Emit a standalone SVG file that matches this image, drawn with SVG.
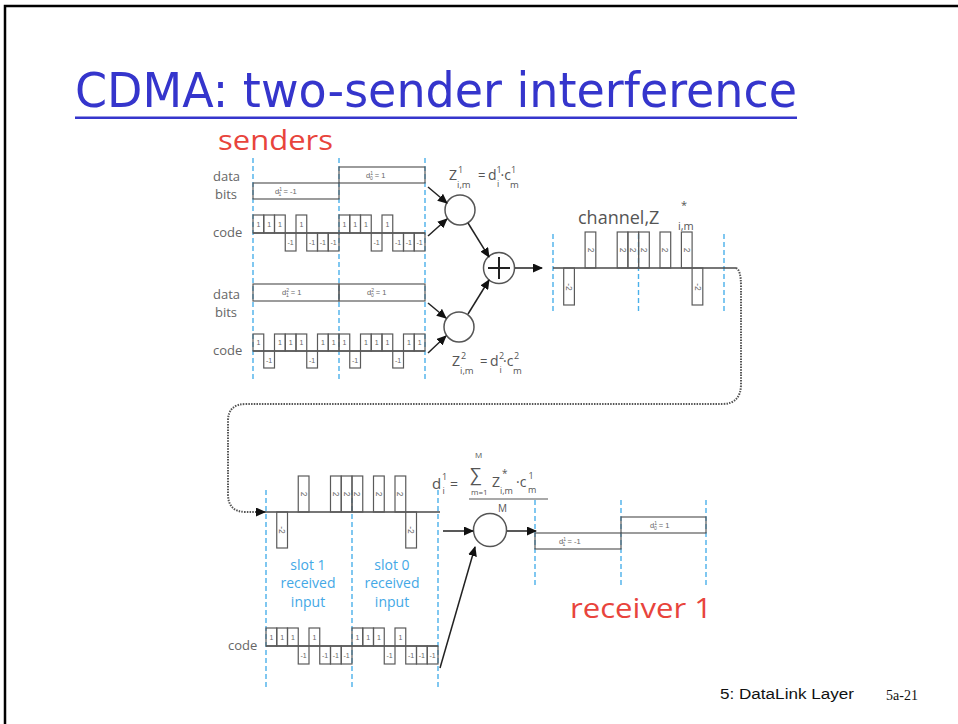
<svg xmlns="http://www.w3.org/2000/svg" width="958" height="724" viewBox="0 0 958 724">
  <style>
    .wave { fill: none; stroke: #5a5a5a; stroke-width: 1.2; }
    .base { fill: none; stroke: #4a4a4a; stroke-width: 1.3; }
    .slot { stroke: #4ab0ea; stroke-width: 1.4; stroke-dasharray: 5 3; }
    .chip { font-family: "Liberation Sans", Arial, sans-serif; font-size: 7px; fill: #666; text-anchor: middle; }
    .chip2 { font-family: "Liberation Sans", Arial, sans-serif; font-size: 8.5px; fill: #666; text-anchor: middle; }
    .lbl { font-family: "Open Sans", "Liberation Sans", Arial, sans-serif; font-size: 13px; fill: #666; }
    .eq { font-family: "Open Sans", "Liberation Sans", Arial, sans-serif; fill: #555; }
    .small { font-family: "Liberation Sans", Arial, sans-serif; font-size: 7.5px; fill: #666; }
    .circ { fill: #fff; stroke: #555; stroke-width: 1.5; }
    .arrow { stroke: #222; stroke-width: 1.5; fill: none; marker-end: url(#head); }
    .blue { font-family: "Open Sans", "Liberation Sans", Arial, sans-serif; font-size: 14px; fill: #44a8e6; text-anchor: middle; }
    .red { font-family: "Open Sans", "Liberation Sans", Arial, sans-serif; font-size: 28px; fill: #e8443c; }
  </style>
  <defs>
    <marker id="head" markerUnits="userSpaceOnUse" markerWidth="10" markerHeight="9" refX="9" refY="4.5" orient="auto">
      <path d="M0,0 L10,4.5 L0,9 z" fill="#111"/>
    </marker>
  </defs>

  <rect width="958" height="724" fill="#fff"/>
  <!-- slide frame -->
  <path d="M5,724 L5,6 L958,6" fill="none" stroke="#000" stroke-width="2.5"/>

  <!-- title -->
  <g id="title">
    <text x="75" y="107" font-family="'Liberation Sans Narrow', 'DejaVu Sans Condensed', 'Liberation Sans', Arial, sans-serif" font-size="48" fill="#3535cc" textLength="722" lengthAdjust="spacingAndGlyphs">CDMA: two-sender interference</text>
    <rect x="75" y="116.5" width="722" height="2.5" fill="#3535cc"/>
  </g>

  <text class="red" x="218" y="150" textLength="115" lengthAdjust="spacingAndGlyphs">senders</text>

  <!-- slot boundaries -->
  <g id="slot-lines">
    <line class="slot" x1="253" y1="158" x2="253" y2="382"/>
    <line class="slot" x1="339" y1="158" x2="339" y2="382"/>
    <line class="slot" x1="425" y1="158" x2="425" y2="382"/>
    <line class="slot" x1="553" y1="234" x2="553" y2="314"/>
    <line class="slot" x1="638.5" y1="234" x2="638.5" y2="314"/>
    <line class="slot" x1="724" y1="234" x2="724" y2="314"/>
    <line class="slot" x1="266" y1="490" x2="266" y2="690"/>
    <line class="slot" x1="352" y1="490" x2="352" y2="690"/>
    <line class="slot" x1="438" y1="490" x2="438" y2="690"/>
    <line class="slot" x1="535" y1="500" x2="535" y2="585"/>
    <line class="slot" x1="621" y1="500" x2="621" y2="585"/>
    <line class="slot" x1="706" y1="500" x2="706" y2="585"/>
  </g>

  <!-- sender 1 -->
  <g id="sender1">
    <text class="lbl" x="213" y="181">data</text>
    <text class="lbl" x="215" y="199">bits</text>
    <rect class="wave" x="253" y="183" width="86" height="16"/>
    <rect class="wave" x="339" y="167" width="86" height="16"/>
    <text class="small" x="275" y="194">d<tspan dy="-3" font-size="5">1</tspan><tspan dx="-3" dy="5" font-size="5">1</tspan><tspan dy="-2"> = -1</tspan></text>
    <text class="small" x="366" y="178">d<tspan dy="-3" font-size="5">1</tspan><tspan dx="-3" dy="5" font-size="5">0</tspan><tspan dy="-2"> = 1</tspan></text>

    <text class="lbl" x="213" y="237">code</text>
    <line class="base" x1="253" y1="233" x2="425" y2="233"/>
    <rect class="wave" x="253" y="215" width="10.75" height="18"/>
    <rect class="wave" x="263.75" y="215" width="10.75" height="18"/>
    <rect class="wave" x="274.5" y="215" width="10.75" height="18"/>
    <rect class="wave" x="285.25" y="233" width="10.75" height="18"/>
    <rect class="wave" x="296" y="215" width="10.75" height="18"/>
    <rect class="wave" x="306.75" y="233" width="10.75" height="18"/>
    <rect class="wave" x="317.5" y="233" width="10.75" height="18"/>
    <rect class="wave" x="328.25" y="233" width="10.75" height="18"/>
    <rect class="wave" x="339" y="215" width="10.75" height="18"/>
    <rect class="wave" x="349.75" y="215" width="10.75" height="18"/>
    <rect class="wave" x="360.5" y="215" width="10.75" height="18"/>
    <rect class="wave" x="371.25" y="233" width="10.75" height="18"/>
    <rect class="wave" x="382" y="215" width="10.75" height="18"/>
    <rect class="wave" x="392.75" y="233" width="10.75" height="18"/>
    <rect class="wave" x="403.5" y="233" width="10.75" height="18"/>
    <rect class="wave" x="414.25" y="233" width="10.75" height="18"/>
    <text class="chip" x="258.4" y="227">1</text>
    <text class="chip" x="269.1" y="227">1</text>
    <text class="chip" x="279.9" y="227">1</text>
    <text class="chip" x="290.6" y="245">-1</text>
    <text class="chip" x="301.4" y="227">1</text>
    <text class="chip" x="312.1" y="245">-1</text>
    <text class="chip" x="322.9" y="245">-1</text>
    <text class="chip" x="333.6" y="245">-1</text>
    <text class="chip" x="344.4" y="227">1</text>
    <text class="chip" x="355.1" y="227">1</text>
    <text class="chip" x="365.9" y="227">1</text>
    <text class="chip" x="376.6" y="245">-1</text>
    <text class="chip" x="387.4" y="227">1</text>
    <text class="chip" x="398.1" y="245">-1</text>
    <text class="chip" x="408.9" y="245">-1</text>
    <text class="chip" x="419.6" y="245">-1</text>
  </g>

  <!-- sender 2 -->
  <g id="sender2">
    <text class="lbl" x="213" y="299">data</text>
    <text class="lbl" x="215" y="317">bits</text>
    <rect class="wave" x="253" y="284" width="86" height="17"/>
    <rect class="wave" x="339" y="284" width="86" height="17"/>
    <text class="small" x="282" y="295">d<tspan dy="-3" font-size="5">2</tspan><tspan dx="-3" dy="5" font-size="5">1</tspan><tspan dy="-2"> = 1</tspan></text>
    <text class="small" x="367" y="295">d<tspan dy="-3" font-size="5">2</tspan><tspan dx="-3" dy="5" font-size="5">0</tspan><tspan dy="-2"> = 1</tspan></text>

    <text class="lbl" x="213" y="355">code</text>
    <line class="base" x1="253" y1="351" x2="425" y2="351"/>
    <rect class="wave" x="253" y="334" width="10.75" height="17"/>
    <rect class="wave" x="263.75" y="351" width="10.75" height="17"/>
    <rect class="wave" x="274.5" y="334" width="10.75" height="17"/>
    <rect class="wave" x="285.25" y="334" width="10.75" height="17"/>
    <rect class="wave" x="296" y="334" width="10.75" height="17"/>
    <rect class="wave" x="306.75" y="351" width="10.75" height="17"/>
    <rect class="wave" x="317.5" y="334" width="10.75" height="17"/>
    <rect class="wave" x="328.25" y="334" width="10.75" height="17"/>
    <rect class="wave" x="339" y="334" width="10.75" height="17"/>
    <rect class="wave" x="349.75" y="351" width="10.75" height="17"/>
    <rect class="wave" x="360.5" y="334" width="10.75" height="17"/>
    <rect class="wave" x="371.25" y="334" width="10.75" height="17"/>
    <rect class="wave" x="382" y="334" width="10.75" height="17"/>
    <rect class="wave" x="392.75" y="351" width="10.75" height="17"/>
    <rect class="wave" x="403.5" y="334" width="10.75" height="17"/>
    <rect class="wave" x="414.25" y="334" width="10.75" height="17"/>
    <text class="chip" x="258.4" y="345">1</text>
    <text class="chip" x="269.1" y="363">-1</text>
    <text class="chip" x="279.9" y="345">1</text>
    <text class="chip" x="290.6" y="345">1</text>
    <text class="chip" x="301.4" y="345">1</text>
    <text class="chip" x="312.1" y="363">-1</text>
    <text class="chip" x="322.9" y="345">1</text>
    <text class="chip" x="333.6" y="345">1</text>
    <text class="chip" x="344.4" y="345">1</text>
    <text class="chip" x="355.1" y="363">-1</text>
    <text class="chip" x="365.9" y="345">1</text>
    <text class="chip" x="376.6" y="345">1</text>
    <text class="chip" x="387.4" y="345">1</text>
    <text class="chip" x="398.1" y="363">-1</text>
    <text class="chip" x="408.9" y="345">1</text>
    <text class="chip" x="419.6" y="345">1</text>
  </g>

  <!-- multiplier for sender 1 -->
  <g id="mult1">
    <circle class="circ" cx="460" cy="210" r="15"/>
    <text class="eq" x="449" y="180" font-size="14">Z</text>
    <text class="eq" x="458" y="173" font-size="9">1</text>
    <text class="eq" x="457" y="188" font-size="9.5">i,m</text>
    <text class="eq" x="478" y="180" font-size="13">=</text>
    <text class="eq" x="488" y="180" font-size="14">d</text>
    <text class="eq" x="496.5" y="173" font-size="9">1</text>
    <text class="eq" x="497" y="187" font-size="9">i</text>
    <text class="eq" x="500.5" y="180" font-size="14">·c</text>
    <text class="eq" x="511" y="173" font-size="9">1</text>
    <text class="eq" x="510" y="188" font-size="9.5">m</text>
  </g>

  <!-- multiplier for sender 2 -->
  <g id="mult2">
    <circle class="circ" cx="459" cy="327" r="15"/>
    <text class="eq" x="452" y="366" font-size="14">Z</text>
    <text class="eq" x="461" y="359" font-size="9">2</text>
    <text class="eq" x="460" y="374" font-size="9.5">i,m</text>
    <text class="eq" x="480" y="366" font-size="13">=</text>
    <text class="eq" x="490" y="366" font-size="14">d</text>
    <text class="eq" x="499" y="359" font-size="9">2</text>
    <text class="eq" x="499.5" y="373" font-size="9">i</text>
    <text class="eq" x="503" y="366" font-size="14">·c</text>
    <text class="eq" x="514" y="359" font-size="9">2</text>
    <text class="eq" x="513" y="374" font-size="9.5">m</text>
  </g>

  <!-- summing node -->
  <g id="adder">
    <circle class="circ" cx="499" cy="268" r="15.5"/>
    <path d="M488,268 H510 M499,257 V279" stroke="#222" stroke-width="2" fill="none"/>
  </g>

  <!-- channel signal -->
  <g id="channel">
    <text class="eq" x="578" y="224" font-size="18">channel,Z</text>
    <text class="eq" x="681" y="209" font-size="11">*</text>
    <text class="eq" x="678" y="230" font-size="11">i,m</text>
    <line class="base" x1="553" y1="268" x2="736" y2="268"/>
    <rect class="wave" x="563.7" y="268" width="10.7" height="37"/>
    <rect class="wave" x="585.1" y="232" width="10.7" height="36"/>
    <rect class="wave" x="617.2" y="232" width="10.7" height="36"/>
    <rect class="wave" x="627.9" y="232" width="10.7" height="36"/>
    <rect class="wave" x="638.6" y="232" width="10.7" height="36"/>
    <rect class="wave" x="660" y="232" width="10.7" height="36"/>
    <rect class="wave" x="681.4" y="232" width="10.7" height="36"/>
    <rect class="wave" x="692.1" y="268" width="10.7" height="37"/>
    <text class="chip2" transform="translate(569,287) rotate(90)" dy="3">-2</text>
    <text class="chip2" transform="translate(590.5,250) rotate(90)" dy="3">2</text>
    <text class="chip2" transform="translate(622.5,250) rotate(90)" dy="3">2</text>
    <text class="chip2" transform="translate(633.3,250) rotate(90)" dy="3">2</text>
    <text class="chip2" transform="translate(644,250) rotate(90)" dy="3">2</text>
    <text class="chip2" transform="translate(665.4,250) rotate(90)" dy="3">2</text>
    <text class="chip2" transform="translate(686.8,250) rotate(90)" dy="3">2</text>
    <text class="chip2" transform="translate(697.5,287) rotate(90)" dy="3">-2</text>
  </g>

  <!-- received input at receiver 1 -->
  <g id="received">
    <line class="base" x1="262" y1="512" x2="440" y2="512"/>
    <rect class="wave" x="276.75" y="512" width="10.75" height="36"/>
    <rect class="wave" x="298.25" y="476" width="10.75" height="36"/>
    <rect class="wave" x="330.5" y="476" width="10.75" height="36"/>
    <rect class="wave" x="341.25" y="476" width="10.75" height="36"/>
    <rect class="wave" x="352" y="476" width="10.75" height="36"/>
    <rect class="wave" x="373.5" y="476" width="10.75" height="36"/>
    <rect class="wave" x="395" y="476" width="10.75" height="36"/>
    <rect class="wave" x="405.75" y="512" width="10.75" height="36"/>
    <text class="chip2" transform="translate(282.1,530) rotate(90)" dy="3">-2</text>
    <text class="chip2" transform="translate(303.6,494) rotate(90)" dy="3">2</text>
    <text class="chip2" transform="translate(335.9,494) rotate(90)" dy="3">2</text>
    <text class="chip2" transform="translate(346.6,494) rotate(90)" dy="3">2</text>
    <text class="chip2" transform="translate(357.4,494) rotate(90)" dy="3">2</text>
    <text class="chip2" transform="translate(378.9,494) rotate(90)" dy="3">2</text>
    <text class="chip2" transform="translate(400.4,494) rotate(90)" dy="3">2</text>
    <text class="chip2" transform="translate(411.1,530) rotate(90)" dy="3">-2</text>

    <text class="blue" x="308" y="570">slot 1</text>
    <text class="blue" x="308" y="588">received</text>
    <text class="blue" x="308" y="607">input</text>
    <text class="blue" x="392" y="570">slot 0</text>
    <text class="blue" x="392" y="588">received</text>
    <text class="blue" x="392" y="607">input</text>
  </g>

  <!-- receiver code -->
  <g id="receiver-code">
    <text class="lbl" x="228" y="650">code</text>
    <line class="base" x1="266" y1="646" x2="438" y2="646"/>
    <rect class="wave" x="266" y="628" width="10.75" height="18"/>
    <rect class="wave" x="276.75" y="628" width="10.75" height="18"/>
    <rect class="wave" x="287.5" y="628" width="10.75" height="18"/>
    <rect class="wave" x="298.25" y="646" width="10.75" height="18"/>
    <rect class="wave" x="309" y="628" width="10.75" height="18"/>
    <rect class="wave" x="319.75" y="646" width="10.75" height="18"/>
    <rect class="wave" x="330.5" y="646" width="10.75" height="18"/>
    <rect class="wave" x="341.25" y="646" width="10.75" height="18"/>
    <rect class="wave" x="352" y="628" width="10.75" height="18"/>
    <rect class="wave" x="362.75" y="628" width="10.75" height="18"/>
    <rect class="wave" x="373.5" y="628" width="10.75" height="18"/>
    <rect class="wave" x="384.25" y="646" width="10.75" height="18"/>
    <rect class="wave" x="395" y="628" width="10.75" height="18"/>
    <rect class="wave" x="405.75" y="646" width="10.75" height="18"/>
    <rect class="wave" x="416.5" y="646" width="10.75" height="18"/>
    <rect class="wave" x="427.25" y="646" width="10.75" height="18"/>
    <text class="chip" x="271.4" y="640">1</text>
    <text class="chip" x="282.1" y="640">1</text>
    <text class="chip" x="292.9" y="640">1</text>
    <text class="chip" x="303.6" y="658">-1</text>
    <text class="chip" x="314.4" y="640">1</text>
    <text class="chip" x="325.1" y="658">-1</text>
    <text class="chip" x="335.9" y="658">-1</text>
    <text class="chip" x="346.6" y="658">-1</text>
    <text class="chip" x="357.4" y="640">1</text>
    <text class="chip" x="368.1" y="640">1</text>
    <text class="chip" x="378.9" y="640">1</text>
    <text class="chip" x="389.6" y="658">-1</text>
    <text class="chip" x="400.4" y="640">1</text>
    <text class="chip" x="411.1" y="658">-1</text>
    <text class="chip" x="421.9" y="658">-1</text>
    <text class="chip" x="432.6" y="658">-1</text>
  </g>

  <!-- correlator -->
  <g id="correlator">
    <circle class="circ" cx="490" cy="530" r="16.5"/>
    <text class="eq" x="432" y="489" font-size="15">d</text>
    <text class="eq" x="442" y="480" font-size="9">1</text>
    <text class="eq" x="442.5" y="494" font-size="9">i</text>
    <text class="eq" x="450" y="489" font-size="14">=</text>
    <text class="eq" x="475" y="458" font-size="8">M</text>
    <text class="eq" x="470" y="481" font-size="18">∑</text>
    <text class="eq" x="471" y="495" font-size="8">m=1</text>
    <text class="eq" x="492" y="487" font-size="14">Z</text>
    <text class="eq" x="502" y="477" font-size="10">*</text>
    <text class="eq" x="500" y="494" font-size="9">i,m</text>
    <text class="eq" x="516" y="487" font-size="14">·c</text>
    <text class="eq" x="528.5" y="479" font-size="9">1</text>
    <text class="eq" x="528" y="493" font-size="9">m</text>
    <line x1="469" y1="499" x2="548" y2="499" stroke="#555" stroke-width="1.2"/>
    <text class="eq" x="498" y="512" font-size="10">M</text>
  </g>

  <!-- recovered data bits -->
  <g id="receiver-output">
    <rect class="wave" x="535" y="533" width="86" height="16"/>
    <rect class="wave" x="621" y="517" width="85" height="16"/>
    <text class="small" x="559" y="544">d<tspan dy="-3" font-size="5">1</tspan><tspan dx="-3" dy="5" font-size="5">1</tspan><tspan dy="-2"> = -1</tspan></text>
    <text class="small" x="650" y="528">d<tspan dy="-3" font-size="5">1</tspan><tspan dx="-3" dy="5" font-size="5">0</tspan><tspan dy="-2"> = 1</tspan></text>
    <text class="red" x="570" y="618" textLength="142" lengthAdjust="spacingAndGlyphs">receiver 1</text>
  </g>

  <!-- connectors -->
  <g id="connectors">
    <line class="arrow" x1="428" y1="187" x2="447" y2="203"/>
    <line class="arrow" x1="428" y1="236" x2="447" y2="219"/>
    <line class="arrow" x1="428" y1="303" x2="446" y2="318"/>
    <line class="arrow" x1="428" y1="353" x2="446" y2="336"/>
    <line class="arrow" x1="468" y1="223" x2="489" y2="257"/>
    <line class="arrow" x1="468" y1="314" x2="489" y2="280"/>
    <line class="arrow" x1="515" y1="268" x2="542" y2="268"/>
    <line class="arrow" x1="443" y1="531" x2="473" y2="531"/>
    <line class="arrow" x1="440" y1="668" x2="475" y2="547"/>
    <line class="arrow" x1="507" y1="531" x2="536" y2="531"/>
    <path d="M736,268 Q741,270 741,286 L741,384 Q741,404 722,404 L246,404 Q228,404 228,421 L228,494 Q228,512 246,512 L265,512"
          fill="none" stroke="#555" stroke-width="2" stroke-dasharray="1.5 1.2" marker-end="url(#head)"/>
  </g>

  <!-- footer -->
  <g id="footer">
    <text x="720" y="699" font-family="'Liberation Sans', Arial, sans-serif" font-size="14" fill="#111" textLength="134" lengthAdjust="spacingAndGlyphs">5: DataLink Layer</text>
    <text x="886" y="700" font-family="'Liberation Serif', 'Times New Roman', serif" font-size="14" fill="#111">5a-21</text>
  </g>
</svg>
